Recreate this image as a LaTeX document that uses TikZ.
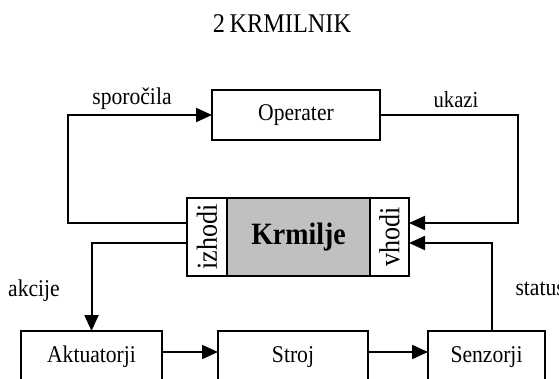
\documentclass[tikz,border=0pt]{standalone}
\usepackage{fontspec}
\setmainfont{Liberation Serif}[FakeStretch=0.9]
\usepackage{tikz}
\usetikzlibrary{arrows.meta}

\definecolor{krmgray}{RGB}{192,192,192}

\begin{document}
\begin{tikzpicture}[x=1pt,y=-1pt,
			blok/.style={draw, line width=2pt, inner sep=0pt, outer sep=0pt, font=\fontsize{24}{28}\selectfont},
			puscica/.style={line width=2pt, -{Triangle[length=16pt,width=14pt]}},
			napis/.style={font=\fontsize{24}{28}\selectfont, anchor=base}
		]
		\clip (0,0) rectangle (559,378);

		\node[font=\fontsize{27}{32}\selectfont] (naslov) at (282,24) {2\,KRMILNIK};

		\node[blok, minimum width=168pt, minimum height=50pt] (operater) at (296,115) {Operater};

		\node[blok, minimum width=40pt, minimum height=78pt, font=\fontsize{29}{32}\selectfont] (izhodi) at (207,237) {\rotatebox{90}{izhodi}};
		\node[blok, fill=krmgray, minimum width=143pt, minimum height=78pt, font=\fontsize{31}{34}\selectfont\bfseries] (krmilje) at (298.5,237) {Krmilje};
		\node[blok, minimum width=39pt, minimum height=78pt, font=\fontsize{29}{32}\selectfont] (vhodi) at (389.5,237) {\rotatebox{90}{vhodi}};

		\node[blok, minimum width=141pt, minimum height=52pt] (aktuatorji) at (91.5,357) {Aktuatorji};
		\node[blok, minimum width=150pt, minimum height=52pt] (stroj) at (293,357) {Stroj};
		\node[blok, minimum width=117pt, minimum height=52pt] (senzorji) at (486.5,357) {Senzorji};

		\coordinate (levo) at (68,115);
		\coordinate (desno) at (518,115);

		% povratne zanke
		\draw[puscica] ([yshift=14pt]izhodi.west) -| (levo) -- (operater.west);
		\draw[puscica] (operater.east) -- (desno) |- ([yshift=14pt]vhodi.east);
		\draw[puscica] ([yshift=-6pt]izhodi.west) -| (aktuatorji.north);
		\draw[puscica] ([xshift=5.5pt]senzorji.north) |- ([yshift=-6pt]vhodi.east);

		\draw[puscica] ([yshift=5pt]aktuatorji.east) -- ([yshift=5pt]stroj.west);
		\draw[puscica] ([yshift=5pt]stroj.east) -- ([yshift=5pt]senzorji.west);

		\node[napis] (sporocila) at (132,104) {sporočila};
		\node[napis, font=\fontsize{23}{28}\selectfont] (ukazi) at (456,107) {ukazi};
		\node[napis] (akcije) at (34,296) {akcije};
		\node[napis, anchor=base west] (status) at (512,295) {status};
	\end{tikzpicture}
\end{document}
